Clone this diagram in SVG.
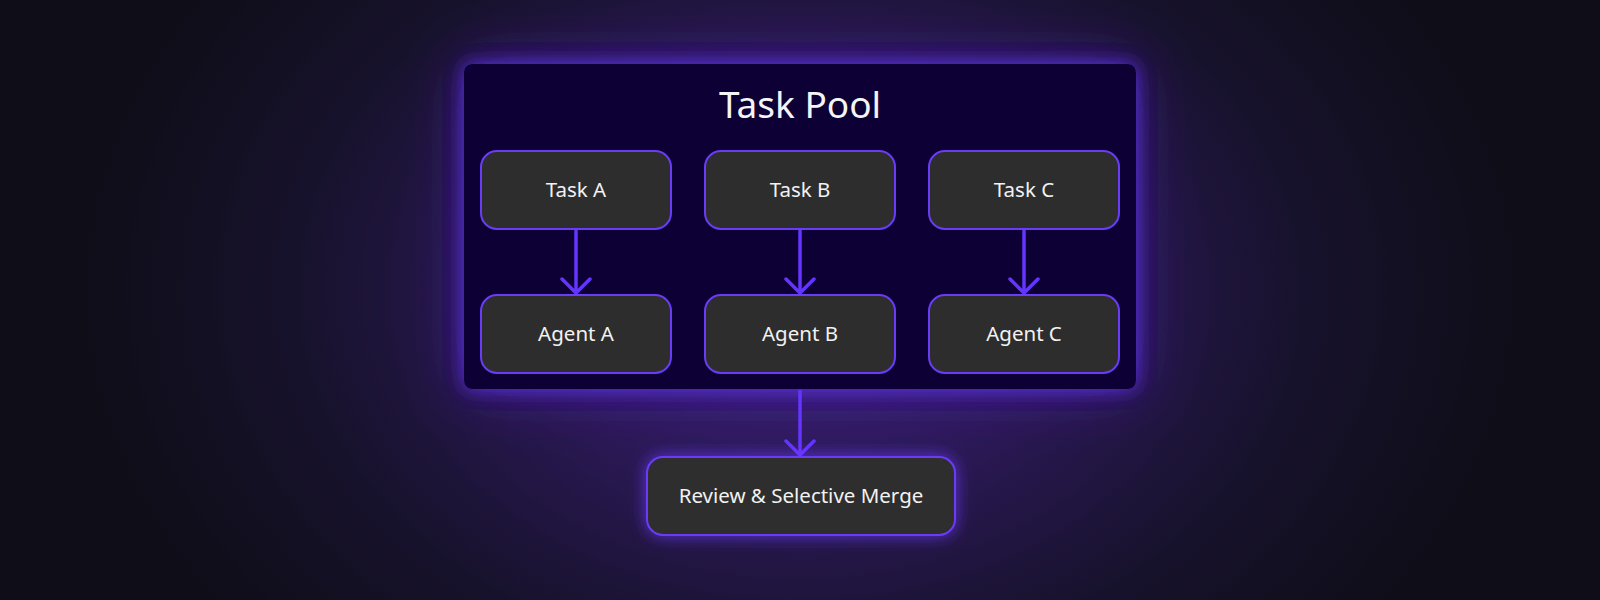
<svg xmlns="http://www.w3.org/2000/svg" width="1600" height="600" viewBox="0 0 1600 600">
  <defs>
    <radialGradient id="bg" cx="800" cy="290" r="720" gradientUnits="userSpaceOnUse" gradientTransform="translate(800 290) scale(1 0.75) translate(-800 -290)">
      <stop offset="0" stop-color="#3a2276"/>
      <stop offset="0.35" stop-color="#2c1958"/>
      <stop offset="0.7" stop-color="#17122c"/>
      <stop offset="1" stop-color="#0f0d18"/>
    </radialGradient>
    <filter id="glow" x="-30%" y="-40%" width="160%" height="180%">
      <feGaussianBlur in="SourceAlpha" stdDeviation="9" result="b1"/>
      <feFlood flood-color="#5f30f0" flood-opacity="0.9"/>
      <feComposite in2="b1" operator="in" result="g1"/>
      <feGaussianBlur in="SourceAlpha" stdDeviation="28" result="b2"/>
      <feFlood flood-color="#5a2fd8" flood-opacity="0.55"/>
      <feComposite in2="b2" operator="in" result="g2"/>
      <feMerge><feMergeNode in="g2"/><feMergeNode in="g1"/><feMergeNode in="SourceGraphic"/></feMerge>
    </filter>
    <filter id="glow2" x="-30%" y="-60%" width="160%" height="220%">
      <feDropShadow dx="0" dy="0" stdDeviation="8" flood-color="#6a38ff" flood-opacity="0.8"/>
    </filter>
    <marker id="arr" viewBox="0 0 32 32" refX="30" refY="16" markerWidth="32" markerHeight="32" markerUnits="userSpaceOnUse" orient="auto">
      <path d="M16 2 L30 16 L16 30" fill="none" stroke="#6534ff" stroke-width="3.5" stroke-linecap="round" stroke-linejoin="round"/>
    </marker>
    <style>
      .node rect { fill: #2e2d2e; stroke: #6a3cf5; stroke-width: 2; }
      .node text { fill: #f2f2f2; font-family: "Noto Sans", "Open Sans", sans-serif; font-size: 20.5px; text-anchor: middle; }
      .title { fill: #f4f4f4; font-family: "Noto Sans", "Open Sans", sans-serif; font-size: 37px; text-anchor: middle; }
      .edge { stroke: #6534ff; stroke-width: 3.5; fill: none; marker-end: url(#arr); }
    </style>
  </defs>
  <rect width="1600" height="600" fill="url(#bg)"/>

  <g id="task-pool">
    <rect x="464" y="64" width="672" height="325" rx="8" fill="#0d0434" filter="url(#glow)"/>
    <text class="title" x="800" y="118">Task Pool</text>
  </g>

  <g id="connectors">
    <line class="edge" x1="576" y1="230" x2="576" y2="293"/>
    <line class="edge" x1="800" y1="230" x2="800" y2="293"/>
    <line class="edge" x1="1024" y1="230" x2="1024" y2="293"/>
    <line class="edge" x1="800" y1="390" x2="800" y2="455"/>
  </g>

  <g id="task-a" class="node"><rect x="481" y="151" width="190" height="78" rx="16"/><text x="576" y="197">Task A</text></g>
  <g id="task-b" class="node"><rect x="705" y="151" width="190" height="78" rx="16"/><text x="800" y="197">Task B</text></g>
  <g id="task-c" class="node"><rect x="929" y="151" width="190" height="78" rx="16"/><text x="1024" y="197">Task C</text></g>
  <g id="agent-a" class="node"><rect x="481" y="295" width="190" height="78" rx="16"/><text x="576" y="341">Agent A</text></g>
  <g id="agent-b" class="node"><rect x="705" y="295" width="190" height="78" rx="16"/><text x="800" y="341">Agent B</text></g>
  <g id="agent-c" class="node"><rect x="929" y="295" width="190" height="78" rx="16"/><text x="1024" y="341">Agent C</text></g>
  <g id="review" class="node"><rect x="647" y="457" width="308" height="78" rx="16" filter="url(#glow2)"/><text x="801" y="503">Review &amp; Selective Merge</text></g>
</svg>
